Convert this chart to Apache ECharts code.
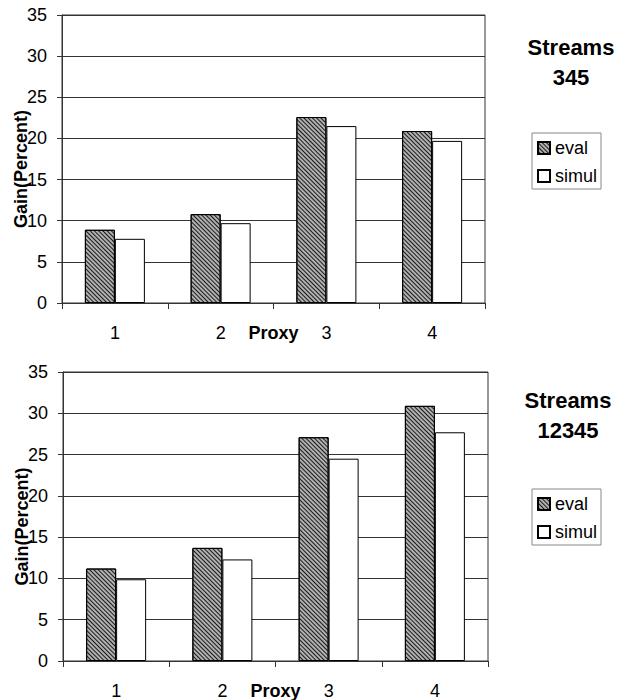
<!DOCTYPE html>
<html>
<head>
<meta charset="utf-8">
<script src="https://cdn.jsdelivr.net/npm/echarts@6/dist/echarts.min.js"></script>
<style>
html,body{margin:0;padding:0;background:#fff;}
#chart{width:620px;height:700px;}
</style>
</head>
<body>
<div id="chart"></div>
<script>
// ---- data ----
var proxies = ['1', '2', '3', '4'];
var yTicks = [0, 5, 10, 15, 20, 25, 30, 35];
var seriesNames = ['eval', 'simul'];
var evalTop = [8.9, 10.8, 22.6, 20.9];
var simulTop = [7.8, 9.7, 21.5, 19.7];
var evalBottom = [11.2, 13.7, 27.1, 30.9];
var simulBottom = [9.9, 12.3, 24.5, 27.7];
var titleTop = 'Streams\n345';
var titleBottom = 'Streams\n12345';

// ---- styles ----
var FONT = "'Liberation Sans', Arial, sans-serif";
var hatch = {
  color: '#b0b0b0',
  borderColor: '#000',
  borderWidth: 1,
  decal: {
    symbol: 'rect',
    symbolSize: 1,
    color: '#1a1a1a',
    dashArrayX: [1, 0],
    dashArrayY: [1, 1.5],
    rotation: Math.PI / 4
  }
};
var plain = { color: '#ffffff', borderColor: '#000', borderWidth: 1 };

function xAxisDef(gi) {
  return {
    type: 'category', gridIndex: gi, data: proxies,
    name: 'Proxy', nameLocation: 'middle', nameGap: 21, nameMoveOverlap: false,
    nameTextStyle: { fontFamily: FONT, fontSize: 18, fontWeight: 'bold', color: '#000' },
    axisLine: { lineStyle: { color: '#333', width: 1 } },
    axisTick: { show: true, length: 6, lineStyle: { color: '#333' } },
    axisLabel: { margin: 21, fontFamily: FONT, fontSize: 18, color: '#000' },
    splitLine: { show: false }
  };
}
function yAxisDef(gi) {
  return {
    type: 'value', gridIndex: gi,
    min: yTicks[0], max: yTicks[yTicks.length - 1], interval: yTicks[1] - yTicks[0],
    name: 'Gain(Percent)', nameLocation: 'middle', nameGap: 32, nameMoveOverlap: false,
    nameTextStyle: { fontFamily: FONT, fontSize: 18, fontWeight: 'bold', color: '#000', padding: [0, 20, 0, 0] },
    axisLine: { show: true, lineStyle: { color: '#333', width: 1 } },
    axisTick: { show: true, length: 5, lineStyle: { color: '#333' } },
    axisLabel: { margin: 15, fontFamily: FONT, fontSize: 18, color: '#000' },
    splitLine: { show: true, lineStyle: { color: '#333', width: 1 } }
  };
}
function legendDef(top) {
  return {
    data: seriesNames, orient: 'vertical', left: 532, top: top,
    padding: [5, 4, 3, 5], itemGap: 8, itemWidth: 12, itemHeight: 12,
    borderColor: '#888', borderWidth: 1, icon: 'rect',
    textStyle: { fontFamily: FONT, fontSize: 18, lineHeight: 20, color: '#000' },
    selectedMode: false
  };
}
function barSeries(name, xi, data, style) {
  return {
    name: name, type: 'bar', xAxisIndex: xi, yAxisIndex: xi, data: data,
    barWidth: 30, barGap: '0%', itemStyle: style, animation: false,
    emphasis: { disabled: true }
  };
}
function gridDef(left, top, width, height) {
  return {
    left: left, top: top, width: width, height: height,
    show: true, borderColor: '#333', borderWidth: 1, backgroundColor: 'transparent',
    containLabel: false, outerBoundsMode: 'none'
  };
}

var chart = echarts.init(document.getElementById('chart'), null, { renderer: 'svg' });
chart.setOption({
  backgroundColor: '#fff',
  animation: false,
  title: [
    { text: titleTop, left: 566, top: 27, textAlign: 'center',
      textStyle: { fontFamily: FONT, fontSize: 22, fontWeight: 'bold', lineHeight: 30, color: '#000' } },
    { text: titleBottom, left: 563, top: 380, textAlign: 'center',
      textStyle: { fontFamily: FONT, fontSize: 22, fontWeight: 'bold', lineHeight: 30, color: '#000' } }
  ],
  legend: [legendDef(133), legendDef(489)],
  grid: [gridDef(62, 15, 423, 288), gridDef(63, 372, 425, 289)],
  xAxis: [xAxisDef(0), xAxisDef(1)],
  yAxis: [yAxisDef(0), yAxisDef(1)],
  series: [
    barSeries('eval', 0, evalTop, hatch),
    barSeries('simul', 0, simulTop, plain),
    barSeries('eval', 1, evalBottom, hatch),
    barSeries('simul', 1, simulBottom, plain)
  ]
});
</script>
</body>
</html>
